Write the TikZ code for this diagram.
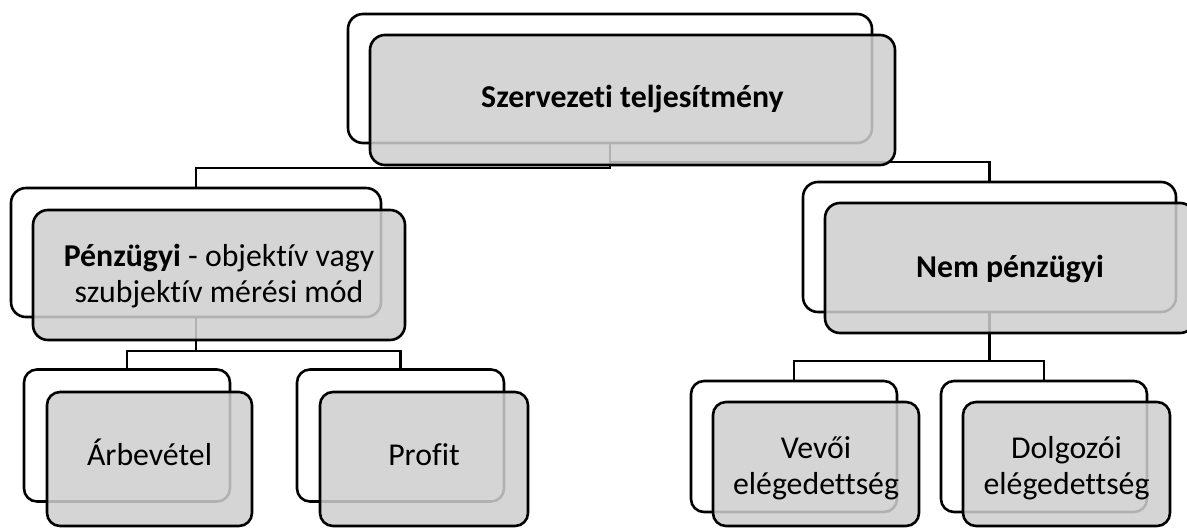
\documentclass[tikz,border=0pt]{standalone}
\usepackage{fontspec}
\setmainfont{Carlito}[Ligatures=NoCommon]
% invisible struts that fix the height above the first baseline and the depth below the last
\newcommand{\toppad}[1]{\rule{0pt}{#1}}
\newcommand{\botpad}[1]{\rule[-#1]{0pt}{0pt}}
\begin{document}
\begin{tikzpicture}[x=1pt,y=-1pt,
  conn/.style={draw=black,line width=2.4pt},
  backbox/.style={draw=black,line width=2.6pt,fill=white,rounded corners=15pt,
    inner sep=0pt,outer sep=0pt},
  frontbox/.style={draw=black,line width=2.6pt,fill=black!19,fill opacity=0.86,
    draw opacity=1,text opacity=1,rounded corners=15pt,inner sep=0pt,outer sep=0pt,
    align=center,font=\fontsize{31.8}{36}\selectfont},
  big/.style={minimum width=#1,minimum height=130pt},
  small/.style={minimum width=#1,minimum height=132pt,rounded corners=13pt}]
\useasboundingbox (0,0) rectangle (1187,528);
\fill[white] (0,0) rectangle (1187,528);
\clip (0,0) rectangle (1187,528);

% back frames
\node[backbox,big=524pt,minimum height=129pt] (topB) at (610,78.5) {};
\node[backbox,big=370pt,minimum height=129pt] (penzB) at (196,252.5) {};
\node[backbox,big=373pt] (nemB) at (989.5,247) {};
\node[backbox,small=206pt] (arbB) at (127,435.5) {};
\node[backbox,small=207pt] (profB) at (400.5,435.5) {};
\node[backbox,small=206pt,minimum height=131pt] (vevB) at (794,446.5) {};
\node[backbox,small=206pt,minimum height=131pt] (dolgB) at (1044,446.5) {};

% connectors
\draw[conn] (topB.south) -- ++(0,25) -| (penzB.north);
\draw[conn] (topB.south) ++(0,19) -| (nemB.north);
\draw[conn] (penzB.south) -- ++(0,34) -| (arbB.north);
\draw[conn] (penzB.south) ++(0,34) -| (profB.north);
\draw[conn] (nemB.south) -- ++(0,49) -| (vevB.north);
\draw[conn] (nemB.south) ++(0,49) -| (dolgB.north);

% front boxes with the labels
\node[frontbox,big=525pt] (top) at (632.5,100)
  {\toppad{28pt}\botpad{14pt}\textbf{Szervezeti teljesítmény}};
\node[frontbox,big=372pt] (penz) at (219,275)
  {\toppad{27pt}\textbf{Pénzügyi} - objektív vagy\\szubjektív mérési mód\botpad{8pt}};
\node[frontbox,big=370pt] (nem) at (1010,268)
  {\toppad{30pt}\botpad{12pt}\textbf{Nem pénzügyi}};
\node[frontbox,small=205pt,minimum height=134pt] (arb) at (149.5,459)
  {\toppad{30pt}\botpad{18pt}Árbevétel};
\node[frontbox,small=208pt,minimum height=134pt] (prof) at (424,459)
  {\toppad{30pt}\botpad{18pt}Profit};
\node[frontbox,small=206pt,minimum height=124pt] (vev) at (816,464)
  {\toppad{32pt}Vevői\\elégedettség\botpad{8pt}};
\node[frontbox,small=207pt,minimum height=124pt] (dolg) at (1066.5,464)
  {\toppad{32pt}Dolgozói\\elégedettség\botpad{8pt}};
\end{tikzpicture}
\end{document}
